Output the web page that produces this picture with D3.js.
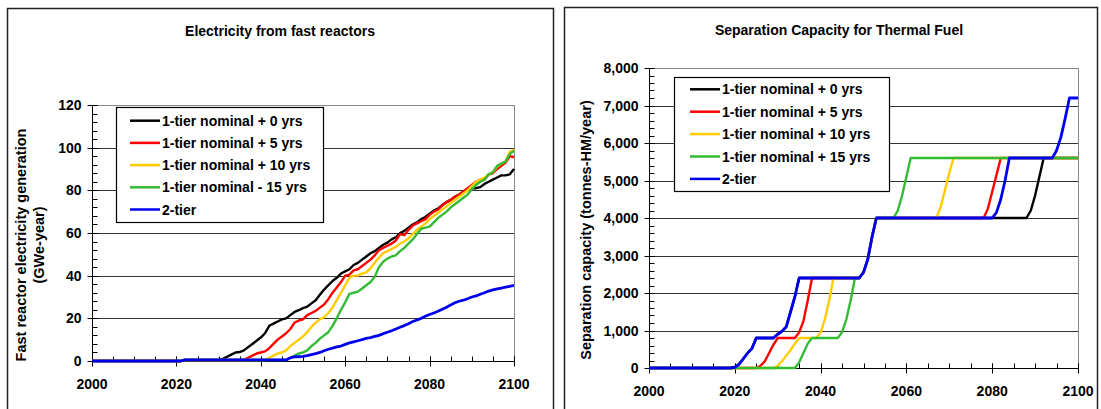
<!DOCTYPE html>
<html>
<head>
<meta charset="utf-8">
<script src="https://cdn.jsdelivr.net/npm/d3@7"></script>
<style>
  html, body { margin: 0; padding: 0; background: #fff; }
  svg { display: block; font-family: "Liberation Sans", Arial, sans-serif; font-weight: bold; }
</style>
</head>
<body>
<svg id="chart" width="1101" height="409"></svg>
<script>
// ---- Electricity from fast reactors (GWe-year), [year, value] ----
const elecTier0 = [[2000,0],[2021,0],[2022,0.5],[2030,0.5],[2031,1],[2032,2],[2033,3],[2034,4],[2035,4.2],[2036,5],[2037,6.5],[2038,8],[2039,9.5],[2040,11],[2041,13],[2042,16.5],[2043,17.5],[2044,18.5],[2045,19.5],[2046,20],[2047,21.5],[2048,23],[2049,23.8],[2050,24.8],[2051,25.5],[2052,27],[2053,28.5],[2054,31],[2055,33.5],[2056,35.5],[2057,37.5],[2058,39],[2059,41],[2060,42],[2061,43],[2062,45],[2063,46],[2064,47.5],[2065,49],[2066,50.5],[2067,51.5],[2068,53],[2069,54.5],[2070,55.5],[2071,57],[2072,58],[2073,60],[2074,61],[2075,62.5],[2076,64],[2077,65],[2078,66.5],[2079,67.5],[2080,69],[2081,70.5],[2082,71.5],[2083,73],[2084,74.5],[2085,75.5],[2086,77],[2087,78],[2088,79.5],[2089,80.5],[2090,81],[2091,81],[2092,81.5],[2093,83],[2094,84],[2095,85],[2096,86],[2097,87],[2098,87],[2099,87.5],[2100,90]];
const elecTier5 = [[2000,0],[2021,0],[2022,0.5],[2036,0.5],[2037,1.5],[2038,2.5],[2039,3.5],[2040,4],[2041,4.5],[2042,6],[2043,8],[2044,10],[2045,11.5],[2046,13],[2047,15],[2048,18],[2049,19],[2050,19.5],[2051,21.5],[2052,22.5],[2053,23.5],[2054,25],[2055,26.5],[2056,29],[2057,32],[2058,34.5],[2059,37],[2060,40],[2061,40.5],[2062,42.5],[2063,43],[2064,44.5],[2065,46],[2066,47.5],[2067,49.5],[2068,52],[2069,53],[2070,54],[2071,55],[2072,56.5],[2073,59.5],[2074,59],[2075,61.5],[2076,63.5],[2077,64.5],[2078,65.5],[2079,66.5],[2080,68.5],[2081,70],[2082,71],[2083,73],[2084,74.5],[2085,75.5],[2086,77],[2087,78],[2088,79.5],[2089,81],[2090,82.5],[2091,84],[2092,85],[2093,85],[2094,87.5],[2095,88],[2096,90],[2097,91.5],[2098,93],[2099,96],[2100,95.5]];
const elecTier10 = [[2000,0],[2021,0],[2022,0.5],[2041,0.5],[2042,1.5],[2043,2.5],[2044,3.5],[2045,4],[2046,5],[2047,7],[2048,8.5],[2049,10],[2050,11.5],[2051,13.5],[2052,16],[2053,18],[2054,19.5],[2055,20.5],[2056,22.5],[2057,25],[2058,28.5],[2059,32],[2060,35.5],[2061,39],[2062,40],[2063,40],[2064,41],[2065,41.5],[2066,43.5],[2067,46],[2068,48.5],[2069,50.5],[2070,51.5],[2071,52.5],[2072,53.5],[2073,55],[2074,56],[2075,57.5],[2076,59.5],[2077,61.5],[2078,63],[2079,64.5],[2080,66.5],[2081,68],[2082,69.5],[2083,71],[2084,72.5],[2085,74],[2086,75.5],[2087,77],[2088,78.5],[2089,80],[2090,82],[2091,84],[2092,85],[2093,86],[2094,87.5],[2095,88.5],[2096,91],[2097,92.5],[2098,93.5],[2099,98],[2100,99]];
const elecTier15 = [[2000,0],[2021,0],[2022,0.5],[2046,0.5],[2047,1.5],[2048,2.5],[2049,3.5],[2050,4],[2051,5],[2052,7],[2053,8.5],[2054,10.5],[2055,12],[2056,13.5],[2057,16.5],[2058,20],[2059,24],[2060,27.5],[2061,31.5],[2062,32],[2063,32.5],[2064,34],[2065,35.5],[2066,37],[2067,39.5],[2068,44],[2069,46.5],[2070,48],[2071,49],[2072,49.5],[2073,51.5],[2074,53],[2075,55],[2076,57],[2077,59.5],[2078,62],[2079,62.5],[2080,63],[2081,65],[2082,67],[2083,68.5],[2084,70],[2085,72],[2086,73.5],[2087,75],[2088,76.5],[2089,78],[2090,80.5],[2091,82.5],[2092,84],[2093,85],[2094,87.5],[2095,88.5],[2096,91.5],[2097,92.5],[2098,93.5],[2099,97],[2100,98.5]];
const elecTwoTier = [[2000,0],[2021,0],[2022,0.5],[2046,0.5],[2047,1.5],[2048,2],[2049,2],[2050,2.2],[2051,2.5],[2052,3],[2053,3.5],[2054,4],[2055,4.8],[2056,5.5],[2057,6],[2058,6.6],[2059,7],[2060,7.8],[2061,8.5],[2062,9],[2063,9.5],[2064,10],[2065,10.6],[2066,11],[2067,11.5],[2068,12],[2069,12.8],[2070,13.5],[2071,14.2],[2072,15],[2073,15.8],[2074,16.6],[2075,17.5],[2076,18.5],[2077,19.2],[2078,20],[2079,21],[2080,21.8],[2081,22.5],[2082,23.3],[2083,24.3],[2084,25.2],[2085,26.3],[2086,27.3],[2087,28],[2088,28.5],[2089,29.2],[2090,30],[2091,30.5],[2092,31.3],[2093,32],[2094,32.8],[2095,33.3],[2096,33.8],[2097,34.2],[2098,34.6],[2099,35],[2100,35.4]];

// ---- Separation capacity for thermal fuel (tonnes-HM/year), [year, value] ----
const sepTier0 = [[2000,0],[2019,0],[2020,20],[2021,100],[2022,250],[2023,400],[2024,520],[2025,800],[2029,800],[2030,900],[2031,980],[2032,1100],[2033,1500],[2034,1900],[2035,2400],[2049,2400],[2050,2550],[2051,2900],[2052,3500],[2053,4000],[2088,4000],[2089,4200],[2090,4600],[2091,5100],[2092,5600],[2100,5600]];
const sepTier5 = [[2000,0],[2025,0],[2026,60],[2027,180],[2028,400],[2029,620],[2030,800],[2034,800],[2035,950],[2036,1250],[2037,1800],[2038,2400],[2049,2400],[2050,2550],[2051,2900],[2052,3500],[2053,4000],[2078,4000],[2079,4250],[2080,4700],[2081,5150],[2082,5600],[2100,5600]];
const sepTier10 = [[2000,0],[2029,0],[2030,60],[2031,180],[2032,330],[2033,480],[2034,650],[2035,800],[2039,800],[2040,950],[2041,1300],[2042,1800],[2043,2400],[2049,2400],[2050,2550],[2051,2900],[2052,3500],[2053,4000],[2067,4000],[2068,4300],[2069,4750],[2070,5200],[2071,5600],[2100,5600]];
const sepTier15 = [[2000,0],[2034,0],[2035,150],[2036,400],[2037,650],[2038,800],[2044,800],[2045,950],[2046,1300],[2047,1800],[2048,2400],[2049,2400],[2050,2550],[2051,2900],[2052,3500],[2053,4000],[2057,4000],[2058,4200],[2059,4600],[2060,5100],[2061,5600],[2100,5600]];
const sepTwoTier = [[2000,0],[2019,0],[2020,20],[2021,100],[2022,250],[2023,400],[2024,520],[2025,800],[2029,800],[2030,900],[2031,980],[2032,1100],[2033,1500],[2034,1900],[2035,2400],[2049,2400],[2050,2550],[2051,2900],[2052,3500],[2053,4000],[2080,4000],[2081,4150],[2082,4500],[2083,5000],[2084,5600],[2094,5600],[2095,5800],[2096,6150],[2097,6650],[2098,7200],[2100,7200]];

// ---- Labels and ticks ----
const elecLegend = ["1-tier nominal + 0 yrs", "1-tier nominal + 5 yrs", "1-tier nominal + 10 yrs", "1-tier nominal - 15 yrs", "2-tier"];
const sepLegend = ["1-tier nominal + 0 yrs", "1-tier nominal + 5 yrs", "1-tier nominal + 10 yrs", "1-tier nominal + 15 yrs", "2-tier"];
const yearTicks = [2000, 2020, 2040, 2060, 2080, 2100];
const elecTicks = [0, 20, 40, 60, 80, 100, 120];
const sepTicks = [0, 1000, 2000, 3000, 4000, 5000, 6000, 7000, 8000];
const lineColors = ["#000000", "#ff0000", "#ffcc00", "#33bb33", "#0000ee"];

const svg = d3.select("#chart");

function drawPanel(p) {
  const g = svg.append("g");

  // outer frame of the panel (its lower edge runs off the page)
  g.append("rect")
    .attr("x", p.frame[0] + 0.5).attr("y", p.frame[1] + 0.5)
    .attr("width", p.frame[2] - p.frame[0]).attr("height", 440)
    .attr("fill", "none").attr("stroke", "#222").attr("stroke-width", 1.5);

  g.append("text")
    .attr("x", p.titleX).attr("y", p.titleY)
    .attr("text-anchor", "middle").attr("font-size", 14).attr("fill", "#000")
    .text(p.title);

  const x = d3.scaleLinear().domain([2000, 2100]).range([p.left, p.right]);
  const y = d3.scaleLinear().domain([0, p.yMax]).range([p.bottom, p.top]);

  // horizontal gridlines
  g.append("g").selectAll("line")
    .data(p.yTicks.filter(v => v > 0))
    .join("line")
    .attr("x1", p.left).attr("x2", p.right)
    .attr("y1", d => Math.round(y(d)) + 0.5).attr("y2", d => Math.round(y(d)) + 0.5)
    .attr("stroke", d => d === p.yMax ? "#888" : "#333").attr("stroke-width", 1);

  // right edge of plot area
  g.append("line")
    .attr("x1", Math.round(p.right) + 0.5).attr("x2", Math.round(p.right) + 0.5)
    .attr("y1", p.top).attr("y2", p.bottom)
    .attr("stroke", "#888").attr("stroke-width", 1);

  // y axis: major ticks cross the axis, minor ticks point inward
  const yAxis = g.append("g").attr("transform", `translate(${Math.round(p.left) + 0.5},0)`);
  yAxis.append("line").attr("y1", p.top).attr("y2", p.bottom).attr("stroke", "#000");
  yAxis.selectAll("line.minor")
    .data(d3.range(0, p.yMax + 1e-9, p.yMinor))
    .join("line").attr("class", "minor")
    .attr("x1", 0).attr("x2", 5)
    .attr("y1", d => Math.round(y(d)) + 0.5).attr("y2", d => Math.round(y(d)) + 0.5)
    .attr("stroke", "#000");
  yAxis.selectAll("line.major")
    .data(p.yTicks)
    .join("line").attr("class", "major")
    .attr("x1", -5).attr("x2", 5)
    .attr("y1", d => Math.round(y(d)) + 0.5).attr("y2", d => Math.round(y(d)) + 0.5)
    .attr("stroke", "#000");
  yAxis.selectAll("text")
    .data(p.yTicks)
    .join("text")
    .attr("x", -11).attr("y", d => y(d)).attr("dy", "0.36em")
    .attr("text-anchor", "end").attr("font-size", 14).attr("fill", "#000")
    .text(p.yFormat);

  // x axis
  const xAxis = g.append("g").attr("transform", `translate(0,${Math.round(p.bottom) + 0.5})`);
  xAxis.append("line").attr("x1", p.left).attr("x2", p.right).attr("stroke", "#000");
  xAxis.selectAll("line.minor")
    .data(d3.range(2000, 2101, 5))
    .join("line").attr("class", "minor")
    .attr("x1", d => Math.round(x(d)) + 0.5).attr("x2", d => Math.round(x(d)) + 0.5)
    .attr("y1", -5).attr("y2", 0)
    .attr("stroke", "#000");
  xAxis.selectAll("line.major")
    .data(yearTicks)
    .join("line").attr("class", "major")
    .attr("x1", d => Math.round(x(d)) + 0.5).attr("x2", d => Math.round(x(d)) + 0.5)
    .attr("y1", -5).attr("y2", 5)
    .attr("stroke", "#000");
  xAxis.selectAll("text")
    .data(yearTicks)
    .join("text")
    .attr("x", d => x(d)).attr("y", 22).attr("dy", "0.36em")
    .attr("text-anchor", "middle").attr("font-size", 14).attr("fill", "#000")
    .text(d => d);

  // axis title (rotated)
  const yt = g.append("text")
    .attr("transform", `translate(${p.yTitleX},${p.yTitleY}) rotate(-90)`)
    .attr("text-anchor", "middle").attr("font-size", 14.5).attr("fill", "#000");
  p.yTitle.forEach((t, i) => {
    yt.append("tspan").attr("x", 0).attr("dy", i === 0 ? 0 : "1.25em").text(t);
  });

  // series
  const line = d3.line().x(d => x(d[0])).y(d => y(d[1]));
  g.append("g").selectAll("path")
    .data(p.series)
    .join("path")
    .attr("d", d => line(d))
    .attr("fill", "none")
    .attr("stroke", (d, i) => lineColors[i])
    .attr("stroke-width", (d, i) => i === 4 ? 2.8 : 2.4)
    .attr("stroke-linejoin", "round");

  // legend
  const lg = g.append("g");
  lg.append("rect")
    .attr("x", p.legend.x + 0.5).attr("y", p.legend.y + 0.5)
    .attr("width", p.legend.w).attr("height", p.legend.h)
    .attr("fill", "#fff").attr("stroke", "#000").attr("stroke-width", 1.2);
  const rows = lg.selectAll("g.row")
    .data(p.legendLabels)
    .join("g").attr("class", "row")
    .attr("transform", (d, i) => `translate(0,${p.legend.rowY + i * p.legend.rowGap})`);
  rows.append("line")
    .attr("x1", p.legend.sx).attr("x2", p.legend.sx + 30)
    .attr("stroke", (d, i) => lineColors[i]).attr("stroke-width", 2.5);
  rows.append("text")
    .attr("x", p.legend.sx + 32).attr("dy", "0.36em")
    .attr("font-size", 14).attr("fill", "#000")
    .text(d => d);
}

drawPanel({
  frame: [7, 8, 553],
  title: "Electricity from fast reactors",
  titleX: 280, titleY: 36,
  left: 92, right: 514, top: 105, bottom: 361,
  yMax: 120, yTicks: elecTicks, yMinor: 4, yFormat: d => d,
  yTitle: ["Fast reactor electricity generation", "(GWe-year)"],
  yTitleX: 26, yTitleY: 245,
  series: [elecTier0, elecTier5, elecTier10, elecTier15, elecTwoTier],
  legendLabels: elecLegend,
  legend: { x: 116, y: 107, w: 207, h: 115, rowY: 120.7, rowGap: 22.2, sx: 130 }
});

drawPanel({
  frame: [564, 7, 1097],
  title: "Separation Capacity for Thermal Fuel",
  titleX: 839, titleY: 35,
  left: 649, right: 1078, top: 68, bottom: 368,
  yMax: 8000, yTicks: sepTicks, yMinor: 200, yFormat: d3.format(","),
  yTitle: ["Separation capacity (tonnes-HM/year)"],
  yTitleX: 591, yTitleY: 230,
  series: [sepTier0, sepTier5, sepTier10, sepTier15, sepTwoTier],
  legendLabels: sepLegend,
  legend: { x: 674, y: 77, w: 215, h: 114, rowY: 89.3, rowGap: 22.4, sx: 690 }
});
</script>
</body>
</html>
